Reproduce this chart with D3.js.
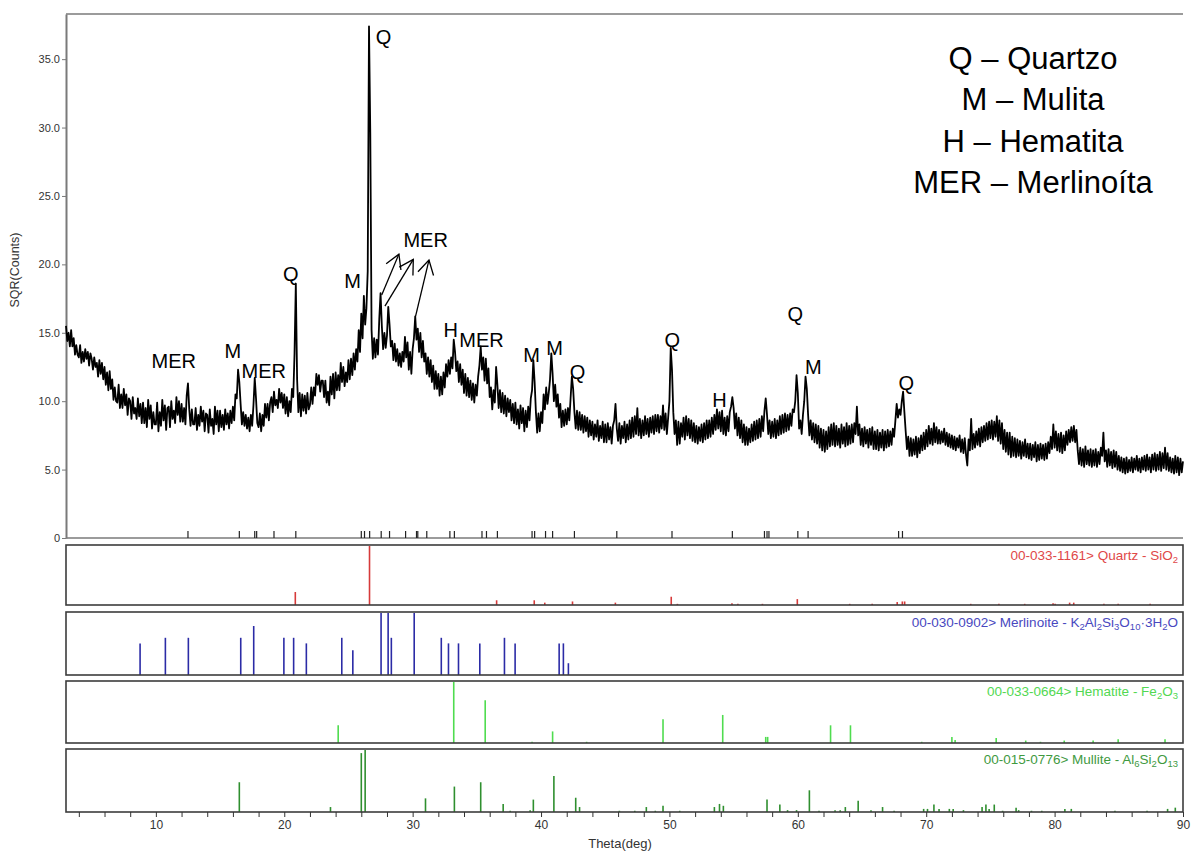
<!DOCTYPE html>
<html><head><meta charset="utf-8">
<script src="https://cdn.jsdelivr.net/npm/d3@7"></script>
<style>
body{margin:0;background:#fff;}
svg{display:block;font-family:"Liberation Sans",Arial,sans-serif;}
</style>
</head><body>
<svg id="c" width="1192" height="855"></svg>
<script>
// ---------------- DATA ----------------
// measured pattern: SQR(counts), sampled every 0.1 deg from 3.0 to 90.0
const thetaStart = 3.0, thetaStep = 0.1;
const counts = [
15.5,14.4,15.0,14.0,15.2,14.0,14.6,13.4,14.1,13.4,
13.2,14.1,12.8,13.6,12.9,13.8,13.1,13.6,12.6,13.5,
13.1,12.3,13.2,12.5,12.8,11.8,13.0,12.0,12.8,11.6,
12.5,11.2,12.1,10.8,12.2,10.9,11.6,10.1,11.0,10.0,
9.9,11.2,9.5,10.5,9.5,10.9,9.7,10.5,9.0,10.2,
10.0,8.7,10.3,9.1,9.5,8.7,10.2,8.9,9.8,8.4,
9.9,8.4,9.5,8.1,10.1,8.7,9.7,8.0,9.2,8.3,
8.3,9.9,7.8,9.2,8.2,10.1,8.6,9.7,7.9,9.5,
9.6,8.1,10.0,8.7,9.3,8.4,10.3,9.0,10.0,8.5,
9.8,8.5,9.5,8.3,10.4,11.3,9.4,8.2,9.4,8.3,
8.3,9.5,7.9,9.0,8.2,9.6,8.5,9.3,7.8,9.1,
9.0,7.7,9.4,8.2,8.7,7.6,9.6,8.3,9.3,7.8,
9.3,8.1,9.0,7.9,9.4,8.3,9.1,8.0,9.3,8.4,
9.6,8.6,10.5,10.2,12.3,11.4,9.8,8.3,9.2,8.2,
9.0,8.0,8.8,7.8,9.0,8.2,9.7,11.7,10.2,8.4,
8.1,9.1,7.8,9.0,8.2,9.8,8.8,9.8,8.6,9.9,
10.3,9.2,10.7,9.7,10.1,9.5,10.9,9.9,10.6,9.5,
10.5,9.1,10.3,8.9,10.0,9.2,10.9,10.3,13.5,18.6,
11.6,9.2,10.6,8.9,10.5,9.3,10.4,9.1,10.6,9.4,
9.7,11.0,9.8,11.0,10.4,12.0,11.2,11.9,10.7,11.5,
11.5,10.3,11.5,9.9,10.7,9.7,11.8,10.5,12.0,10.2,
12.1,10.8,11.9,10.8,12.8,11.4,12.5,11.1,12.1,11.4,
13.0,11.6,13.1,11.9,13.5,12.3,13.8,12.9,15.2,13.6,
16.4,14.6,17.7,15.6,16.8,19.5,37.4,29.6,15.2,13.1,
14.6,13.2,14.5,13.4,16.0,17.9,15.5,13.8,15.0,13.9,
14.8,16.9,15.6,14.0,14.4,13.0,14.2,12.9,13.8,12.6,
13.5,12.5,13.6,12.9,14.7,13.2,14.3,12.3,13.6,12.0,
13.8,14.6,16.2,14.5,15.3,13.6,15.0,13.2,14.4,12.9,
13.5,12.0,13.2,11.8,13.0,11.4,12.6,10.9,12.2,10.9,
12.0,10.4,11.8,10.5,12.1,11.0,12.7,11.8,13.0,12.0,
13.2,12.4,14.5,13.6,12.2,12.9,11.4,12.7,11.2,12.3,
10.6,12.0,10.4,11.7,10.3,11.5,10.1,11.3,9.9,11.2,
10.4,11.8,12.6,14.0,12.3,13.2,11.5,13.1,11.3,12.4,
10.3,11.0,9.4,10.8,9.9,12.5,11.2,9.5,10.8,9.2,
10.6,9.1,10.4,8.9,10.2,9.2,10.1,8.6,9.8,8.4,
9.9,8.3,9.4,8.0,9.7,8.4,9.5,7.8,9.3,8.1,
9.6,8.6,10.2,10.8,13.0,11.4,9.2,7.7,9.1,7.8,
9.2,8.4,10.5,9.4,11.0,9.8,10.6,11.6,13.5,12.0,
10.0,11.2,9.6,10.5,8.8,9.8,8.1,9.3,8.2,9.4,
8.3,9.5,8.6,10.2,11.8,10.9,9.2,8.0,9.3,7.9,
9.2,7.9,9.0,7.7,8.9,7.8,8.8,7.4,8.6,7.5,
8.5,7.2,8.3,7.4,8.6,7.1,8.2,7.3,8.5,7.0,
8.3,7.0,8.4,7.2,8.1,6.9,8.2,8.6,9.8,8.0,
7.1,8.4,6.9,8.2,7.3,8.5,7.0,8.3,7.2,8.6,
7.3,8.8,7.4,8.9,7.6,9.5,7.5,8.7,7.3,8.6,
7.5,8.9,7.6,8.7,7.4,8.8,7.7,8.9,7.6,9.0,
7.8,9.0,7.7,8.9,8.0,9.7,7.9,9.1,7.6,8.8,
10.0,13.9,12.3,9.2,7.6,8.6,6.8,8.5,6.9,8.4,
7.4,8.8,7.2,8.9,7.5,8.7,7.3,8.6,7.1,8.4,
7.0,8.2,6.9,8.1,7.1,8.3,7.0,8.4,7.2,8.6,
7.3,8.6,7.4,8.8,7.6,9.0,7.9,9.4,8.0,9.2,
7.8,9.3,7.6,8.8,7.5,8.9,7.8,9.2,9.6,10.3,
9.5,8.0,9.1,7.5,8.8,7.3,8.6,7.0,8.3,6.8,
8.1,6.8,8.0,7.0,8.3,7.1,8.5,7.2,8.6,7.3,
8.7,7.4,8.9,7.8,9.3,10.2,9.0,7.6,8.6,7.3,
8.5,7.4,8.7,7.3,8.6,7.5,8.9,7.6,9.0,7.7,
9.1,7.8,9.0,7.9,9.1,8.2,9.4,9.2,10.0,11.9,
10.6,8.0,8.6,7.6,9.0,10.0,11.8,10.9,9.0,7.5,
8.6,7.2,8.4,7.0,8.3,6.9,8.2,6.6,8.0,6.4,
7.9,6.3,7.8,6.5,8.1,6.7,8.3,6.8,8.4,6.7,
8.2,6.8,8.0,6.6,8.3,6.9,8.1,6.7,8.4,6.8,
8.2,6.9,8.3,7.0,8.4,7.6,9.6,7.5,8.3,6.8,
8.0,6.7,8.1,6.9,7.9,6.6,8.0,6.8,8.1,6.5,
7.8,6.5,7.9,6.4,7.7,6.6,7.9,6.4,7.8,6.6,
7.9,6.7,7.8,6.8,8.0,7.4,8.6,9.8,8.8,9.4,
9.0,10.0,10.7,9.2,7.8,6.5,7.4,6.0,7.3,6.0,
7.2,6.1,7.4,5.9,7.3,6.2,7.5,6.4,7.7,6.5,
7.9,6.7,8.2,6.9,8.0,6.8,8.4,7.0,8.1,6.9,
7.9,6.9,7.8,7.0,8.0,6.8,7.7,6.7,7.6,6.6,
7.5,6.5,7.4,6.4,7.3,6.6,7.5,6.3,7.2,6.2,
7.3,6.1,5.3,7.2,6.4,8.7,6.5,7.6,6.6,7.8,
6.8,8.0,6.7,8.1,7.0,8.2,7.1,8.4,7.2,8.5,
7.3,8.6,7.2,8.5,7.4,8.9,7.1,8.6,6.9,8.4,
6.5,7.9,6.3,7.7,6.1,7.7,5.9,7.4,6.0,7.3,
5.9,7.2,6.0,7.1,5.8,7.0,6.0,7.2,5.9,6.9,
5.8,6.9,5.7,6.8,5.9,7.0,5.6,6.8,5.7,6.9,
5.8,6.8,5.7,6.9,5.8,7.0,6.2,7.4,6.5,8.3,
6.6,7.8,6.4,7.6,6.3,7.7,6.2,7.5,6.4,7.8,
6.8,7.9,7.0,8.1,7.1,8.2,7.0,7.9,6.4,5.4,
6.6,5.3,6.5,5.2,6.7,5.4,6.4,5.3,6.5,5.2,
6.4,5.3,6.5,5.2,6.3,5.4,6.6,6.0,7.7,5.6,
6.4,5.2,6.5,5.3,6.3,5.1,6.4,5.2,6.3,5.0,
6.0,4.9,5.9,4.8,5.8,4.7,5.9,4.8,5.7,4.9,
5.9,4.8,5.8,5.0,6.0,4.9,5.8,4.8,5.9,5.0,
6.0,4.9,6.1,5.0,5.9,4.8,6.1,5.0,6.2,4.9,
6.1,5.0,6.3,4.9,6.2,5.1,6.6,5.0,6.2,4.9,
5.9,4.8,5.8,4.7,6.0,4.8,5.9,4.6,5.8,4.8,
5.6
];

// identified peak positions (markers on the main baseline)
const peakMarkers = [12.5,16.5,17.7,17.85,19.2,20.9,26.0,26.25,26.65,27.55,28.2,29.45,30.3,30.4,31.1,
  32.9,33.25,35.4,35.75,36.6,39.3,39.5,40.35,40.9,42.6,45.9,50.2,54.9,57.4,57.6,57.75,60.0,60.8,67.85,68.15];

// reference patterns: [2theta, relative intensity]
const quartzRef = [[20.86,0.22],[26.64,1.0],[36.54,0.08],[39.47,0.08],[40.29,0.04],[42.45,0.06],[45.79,0.04],
  [50.14,0.14],[50.62,0.02],[54.87,0.03],[55.33,0.02],[57.24,0.02],[59.96,0.10],[64.04,0.02],[65.79,0.02],
  [67.74,0.05],[68.14,0.06],[68.32,0.06],[73.47,0.02],[75.66,0.02],[77.67,0.02],[79.88,0.03],[80.04,0.02],
  [81.17,0.04],[81.49,0.04],[83.84,0.02],[84.95,0.02],[87.44,0.02]];
const merlinoiteRef = [[8.77,0.51],[10.74,0.6],[12.53,0.6],[16.61,0.6],[17.62,0.79],[19.97,0.6],[20.73,0.6],
  [21.72,0.51],[24.48,0.6],[25.34,0.4],[27.54,1.0],[28.09,1.0],[28.34,0.6],[30.12,1.0],[32.23,0.6],[32.79,0.51],
  [33.57,0.51],[35.23,0.51],[37.15,0.6],[37.98,0.51],[41.41,0.51],[41.74,0.51],[42.13,0.19]];
const hematiteRef = [[24.2,0.29],[33.2,1.0],[35.65,0.70],[39.3,0.02],[40.9,0.19],[43.55,0.02],[49.5,0.39],
  [54.15,0.46],[57.5,0.1],[57.65,0.1],[62.55,0.29],[64.1,0.29],[69.65,0.02],[72.0,0.1],[72.25,0.05],[75.45,0.08],
  [77.75,0.04],[78.9,0.02],[80.75,0.04],[83.0,0.04],[84.95,0.06],[88.6,0.06]];
const mulliteRef = [[16.5,0.48],[23.6,0.08],[26.0,0.95],[26.3,1.0],[31.0,0.22],[33.25,0.41],[35.3,0.48],
  [37.05,0.13],[37.6,0.02],[39.15,0.03],[39.4,0.2],[41.0,0.58],[42.7,0.23],[43.0,0.08],[46.1,0.02],[47.3,0.02],
  [48.2,0.08],[48.9,0.02],[49.5,0.1],[50.8,0.02],[53.5,0.08],[53.9,0.13],[54.2,0.1],[57.6,0.2],[58.6,0.12],
  [59.2,0.03],[59.9,0.03],[60.9,0.35],[61.65,0.02],[62.9,0.03],[63.3,0.03],[63.7,0.08],[64.7,0.18],[65.7,0.03],
  [66.6,0.08],[67.5,0.02],[69.8,0.05],[70.1,0.05],[70.6,0.12],[71.0,0.05],[71.8,0.05],[72.1,0.05],[72.9,0.03],
  [74.35,0.08],[74.65,0.12],[74.9,0.05],[75.3,0.12],[75.95,0.02],[77.0,0.07],[77.2,0.03],[78.2,0.02],[79.0,0.02],
  [80.8,0.05],[81.3,0.05],[84.7,0.02],[87.2,0.02],[88.8,0.05],[89.4,0.07]];

// reference card captions: [text, isSubscript]
const quartzCaption = [["00-033-1161> Quartz - SiO",0],["2",1]];
const merlinoiteCaption = [["00-030-0902> Merlinoite - K",0],["2",1],["Al",0],["2",1],["Si",0],["3",1],["O",0],["10",1],["·3H",0],["2",1],["O",0]];
const hematiteCaption = [["00-033-0664> Hematite - Fe",0],["2",1],["O",0],["3",1]];
const mulliteCaption = [["00-015-0776> Mullite - Al",0],["6",1],["Si",0],["2",1],["O",0],["13",1]];

// peak annotations (label, 2theta, SQR counts of label centre)
const peakLabels = [["Q",27.74,36.6],["MER",11.40,12.93],["M",15.99,13.66],["MER",18.40,12.20],["Q",20.51,19.29],
  ["M",25.33,18.78],["MER",31.01,21.77],["H",32.96,15.20],["MER",35.37,14.47],["M",39.26,13.37],["M",41.05,13.88],
  ["Q",42.84,12.13],["Q",50.23,14.47],["H",53.89,10.08],["Q",59.81,16.37],["M",61.21,12.49],["Q",68.44,11.33]];
// arrows from Merlinoite peaks to the MER label: [from theta, from value, to theta, to value]
const merArrows = [[27.59,17.76,28.93,20.75],[27.84,16.95,30.05,20.36],[30.23,16.22,31.27,20.31]];

const legendLines = ["Q – Quartzo","M – Mulita","H – Hematita","MER – Merlinoíta"];
const yTicks = [0,5,10,15,20,25,30,35];
const xTicks = [4,6,8,10,12,14,16,18,20,22,24,26,28,30,32,34,36,38,40,42,44,46,48,50,52,54,56,58,60,62,64,66,68,70,72,74,76,78,80,82,84,86,88,90];

// ---------------- LAYOUT ----------------
const L = 66, R = 1183;
const mainTop = 14, mainBottom = 538;
const panels = [
  {ref: quartzRef, cap: quartzCaption, top: 545, bottom: 605, line: "#d63a3a", text: "#e04848"},
  {ref: merlinoiteRef, cap: merlinoiteCaption, top: 612, bottom: 675, line: "#2b2ba6", text: "#4848c0"},
  {ref: hematiteRef, cap: hematiteCaption, top: 681, bottom: 743, line: "#4fdc4f", text: "#52d852"},
  {ref: mulliteRef, cap: mulliteCaption, top: 749, bottom: 812, line: "#2f8f2f", text: "#3f9a3f"}
];

const svg = d3.select("#c");
const x = d3.scaleLinear().domain([3, 90]).range([L, R]);
const y = d3.scaleLinear().domain([0, 38.3]).range([mainBottom, mainTop]);

// main frame lines
const axisGrey = "#7a7a7a";
svg.append("line").attr("x1", L).attr("x2", R).attr("y1", mainTop).attr("y2", mainTop)
  .attr("stroke", axisGrey).attr("stroke-width", 1.5);
svg.append("line").attr("x1", L).attr("x2", R).attr("y1", mainBottom).attr("y2", mainBottom)
  .attr("stroke", axisGrey).attr("stroke-width", 1.5);

// y axis
const yAxis = d3.axisLeft(y).tickValues(yTicks).tickSize(4).tickSizeOuter(0)
  .tickFormat(d => d === 0 ? "0" : d.toFixed(1));
const gy = svg.append("g").attr("transform", `translate(${L},0)`).call(yAxis);
gy.select(".domain").attr("stroke", axisGrey).attr("stroke-width", 2);
gy.selectAll(".tick line").attr("stroke", axisGrey);
gy.selectAll(".tick text").attr("fill", "#333").attr("font-size", 11).attr("x", -6)
  .attr("font-family", '"Liberation Sans", Arial, sans-serif');

svg.append("text").attr("transform", "translate(19,270) rotate(-90)")
  .attr("text-anchor", "middle").attr("font-size", 12.5).attr("fill", "#333").text("SQR(Counts)");

// pattern line
const line = d3.line().x((d, i) => x(thetaStart + i * thetaStep)).y(d => y(d));
svg.append("path").datum(counts).attr("d", line).attr("fill", "none")
  .attr("stroke", "#000").attr("stroke-width", 1.8).attr("stroke-linejoin", "round");

// peak markers on main baseline
svg.append("g").selectAll("line").data(peakMarkers).join("line")
  .attr("x1", d => x(d)).attr("x2", d => x(d))
  .attr("y1", mainBottom).attr("y2", mainBottom - 7)
  .attr("stroke", "#222").attr("stroke-width", 1.2);

// peak labels
svg.append("g").selectAll("text").data(peakLabels).join("text")
  .attr("x", d => x(d[1])).attr("y", d => y(d[2]))
  .attr("text-anchor", "middle").attr("dominant-baseline", "central")
  .attr("font-size", 20).attr("fill", "#000").text(d => d[0]);

// arrows
const ag = svg.append("g").attr("stroke", "#000").attr("stroke-width", 1.3).attr("fill", "none");
merArrows.forEach(a => {
  const x1 = x(a[0]), y1 = y(a[1]), x2 = x(a[2]), y2 = y(a[3]);
  ag.append("line").attr("x1", x1).attr("y1", y1).attr("x2", x2).attr("y2", y2);
  const ang = Math.atan2(y1 - y2, x1 - x2);
  const len = 16, spread = Math.PI / 6;
  const p1 = [x2 + len * Math.cos(ang - spread), y2 + len * Math.sin(ang - spread)];
  const p2 = [x2 + len * Math.cos(ang + spread), y2 + len * Math.sin(ang + spread)];
  ag.append("path").attr("d", `M${p1[0]},${p1[1]}L${x2},${y2}L${p2[0]},${p2[1]}`);
});

// legend
svg.append("g").selectAll("text").data(legendLines).join("text")
  .attr("x", 1033).attr("y", (d, i) => 58 + i * 41.5)
  .attr("text-anchor", "middle").attr("dominant-baseline", "central")
  .attr("font-size", 31).attr("fill", "#000").text(d => d);

// reference panels
panels.forEach(p => {
  const py = d3.scaleLinear().domain([0, 1]).range([p.bottom, p.top + 1]);
  const g = svg.append("g");
  g.selectAll("line").data(p.ref).join("line")
    .attr("x1", d => x(d[0])).attr("x2", d => x(d[0]))
    .attr("y1", py(0)).attr("y2", d => py(d[1]))
    .attr("stroke", p.line).attr("stroke-width", 1.6);
  g.append("rect").attr("x", L).attr("y", p.top).attr("width", R - L).attr("height", p.bottom - p.top)
    .attr("fill", "none").attr("stroke", "#3c3c3c").attr("stroke-width", 1.6);
  const t = g.append("text").attr("x", R - 5).attr("y", p.top + 15)
    .attr("text-anchor", "end").attr("font-size", 13.5).attr("fill", p.text);
  let sub = false;
  p.cap.forEach(c => {
    const ts = t.append("tspan").text(c[0]);
    if (c[1] && !sub) { ts.attr("dy", 3).attr("font-size", 9.5); sub = true; }
    else if (c[1]) { ts.attr("font-size", 9.5); }
    else if (!c[1] && sub) { ts.attr("dy", -3); sub = false; }
  });
});

// bottom x axis
const bottom = panels[panels.length - 1].bottom;
const xAxis = d3.axisBottom(x).tickValues(xTicks).tickSize(5).tickSizeOuter(0)
  .tickFormat(d => d % 10 === 0 ? d : "");
const gx = svg.append("g").attr("transform", `translate(0,${bottom})`).call(xAxis);
gx.select(".domain").remove();
gx.selectAll(".tick line").attr("stroke", "#333");
gx.selectAll(".tick text").attr("fill", "#333").attr("font-size", 12).attr("y", 8)
  .attr("font-family", '"Liberation Sans", Arial, sans-serif');
svg.append("text").attr("x", 620).attr("y", 848).attr("text-anchor", "middle")
  .attr("font-size", 13).attr("fill", "#333").text("Theta(deg)");
</script>
</body></html>
